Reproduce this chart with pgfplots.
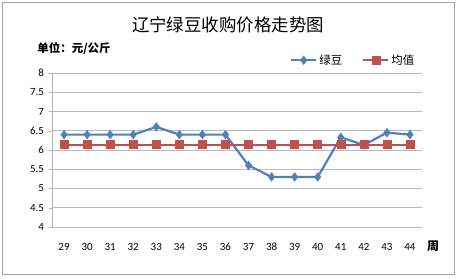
\documentclass[border=0pt]{standalone}
\usepackage{pgfplots}
\pgfplotsset{compat=1.18}
\usepackage{fontspec}
\setmainfont{Carlito}
\newfontfamily\cjk{Noto Sans CJK SC}
\definecolor{xlblue}{HTML}{4F81BD}
\definecolor{xlred}{HTML}{C0504D}
\begin{document}
\begin{tikzpicture}[x=1bp,y=1bp]
\path (0,0) rectangle (457,278);
\draw[gray!70, line width=0.8bp] (2,4) rectangle (454,276);
\node[font=\cjk\fontsize{17.5}{20}\selectfont] at (228,253) {辽宁绿豆收购价格走势图};
\node[font=\cjk\bfseries\fontsize{11.5}{13}\selectfont] at (74,229) {单位：元/公斤};
\node[font=\cjk\bfseries\fontsize{12}{14}\selectfont] at (433,32) {周};
\begin{axis}[
  at={(52.5bp,51bp)}, anchor=south west,
  scale only axis, width=369bp, height=154bp,
  xmin=-0.5, xmax=15.5, ymin=4, ymax=8,
  xtick={0,...,15},
  xticklabels={29,30,31,32,33,34,35,36,37,38,39,40,41,42,43,44},
  ytick={4,4.5,...,8},
  yticklabel style={/pgf/number format/fixed, font=\fontsize{11}{12}\selectfont, xshift=-1bp},
  xticklabel style={font=\fontsize{11}{12}\selectfont, text height=8bp, text depth=0bp, yshift=-8bp},
  /pgf/number format/assume math mode=true,
  ymajorgrids, grid style={gray!55, line width=0.6bp},
  axis x line*=bottom, axis y line*=left,
  axis line style={gray!60, line width=0.6bp},
  x axis line style={draw=none},
  major x tick style={draw=none},
  major y tick style={gray!60},
  tick align=outside, major tick length=4bp,
  legend columns=2,
  legend style={at={(1,1)}, anchor=south east, draw=none, fill=none,
    font=\cjk\fontsize{11.5}{13}\selectfont, yshift=3bp, xshift=-2bp},
  /tikz/every even column/.append style={column sep=18bp},
  legend image code/.code={\draw[mark repeat=2,mark phase=2] plot coordinates {(0bp,0bp)(12.5bp,0bp)(25bp,0bp)};},
]
\addplot[xlblue, line width=2.2bp, mark=diamond*, mark size=4.3bp, mark options={fill=xlblue, line width=0.5bp}]
 coordinates {(0,6.4)(1,6.4)(2,6.4)(3,6.4)(4,6.6)(5,6.4)(6,6.4)(7,6.4)(8,5.6)(9,5.3)(10,5.3)(11,5.3)(12,6.33)(13,6.13)(14,6.45)(15,6.4)};
\addlegendentry{绿豆}
\addplot[xlred, line width=2.2bp, mark=square*, mark size=4bp, mark options={fill=xlred, line width=0.5bp}]
 coordinates {(0,6.14)(1,6.14)(2,6.14)(3,6.14)(4,6.14)(5,6.14)(6,6.14)(7,6.14)(8,6.14)(9,6.14)(10,6.14)(11,6.14)(12,6.14)(13,6.14)(14,6.14)(15,6.14)};
\addlegendentry{均值}
\end{axis}
\end{tikzpicture}
\end{document}
